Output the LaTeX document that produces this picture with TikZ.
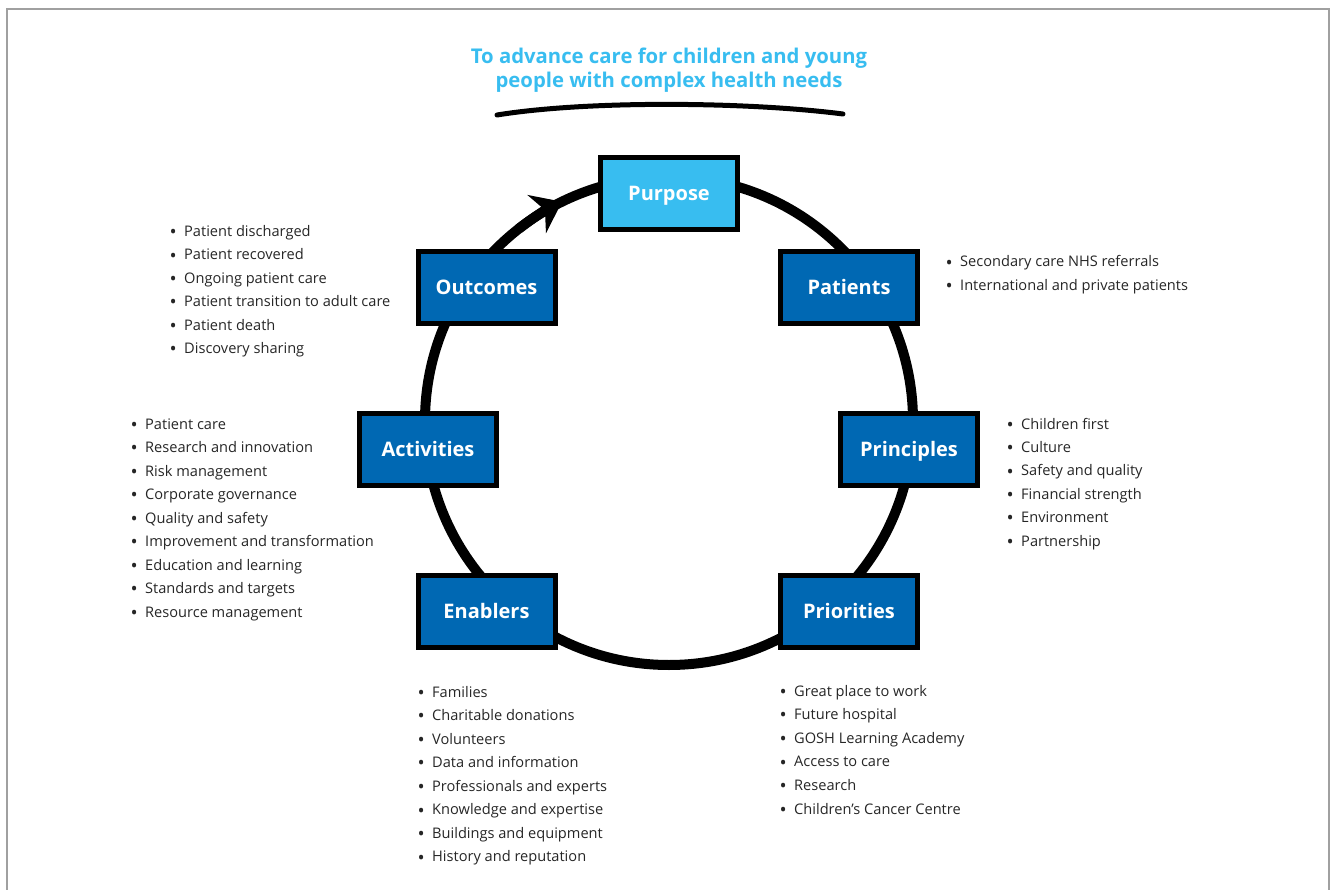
\documentclass[tikz,border=0pt]{standalone}
\usepackage{fontspec}
\setmainfont{Open Sans}
\usetikzlibrary{arrows.meta}
\definecolor{skyblue}{HTML}{38BDF0}
\definecolor{navyblue}{HTML}{0068B3}
\definecolor{txtgray}{HTML}{262626}
\definecolor{framegray}{HTML}{A0A0A0}
\tikzset{
  stagebox/.style={draw=black, line width=5pt, fill=navyblue, minimum width=137pt, minimum height=72pt, inner sep=0pt,
    text=white, font=\fontsize{20}{22}\selectfont\bfseries, text height=14pt, text depth=0pt},
  listitem/.style={anchor=base west, inner sep=0pt, text=txtgray, font=\fontsize{14.6}{16}\selectfont},
  ring/.style={line width=10pt, draw=black},
}
\newcommand{\bulletlist}[5]{%
  \foreach \t [count=\i] in {#5} {%
    \node[listitem] (#1\i) at (#2, {#3+(\i-1)*#4}) {\makebox[14.5pt][l]{\raisebox{-2.2pt}{\scalebox{1.3}{\textbullet}}}\t};
  }%
}
\begin{document}
\begin{tikzpicture}[x=1pt,y=-1pt]
\useasboundingbox (0,0) rectangle (1336,890);
% frame
\draw[framegray, line width=1.3pt] (7,890) -- (7,9) -- (1329,9) -- (1329,890);
% title
\node[text=skyblue, font=\fontsize{20.3}{24}\selectfont\bfseries, align=center] (title) at (669,70)
  {To advance care for children and young\\people with complex health needs};
\coordinate (ulA) at (497,115);
\coordinate (ulB) at (843,114);
\draw[line width=5pt, line cap=round] (ulA) .. controls (590,100) and (750,102) .. (ulB);
% ring
\coordinate (ctr) at (669,421);
\draw[ring] (ctr) circle[radius=244];
\draw[line width=10pt, -{Stealth[length=28pt,width=42pt,inset=9pt]}] (ctr) ++(232:244) arc (232:244:244);
% boxes
\node[stagebox, fill=skyblue] (purpose) at (669,193.5) {Purpose};
\node[stagebox] (outcomes) at (486.5,288) {Outcomes};
\node[stagebox] (patients) at (849,288) {Patients};
\node[stagebox] (activities) at (428,449.5) {Activities};
\node[stagebox] (principles) at (909,449.5) {Principles};
\node[stagebox] (enablers) at (486.5,611.5) {Enablers};
\node[stagebox] (priorities) at (849,611.5) {Priorities};
% lists
\bulletlist{oc}{169.5}{236.5}{23.4}{Patient discharged,Patient recovered,Ongoing patient care,Patient transition to adult care,Patient death,Discovery sharing}
\bulletlist{pa}{945.5}{267}{23.4}{Secondary care NHS referrals,International and private patients}
\bulletlist{ac}{130.5}{429}{23.5}{Patient care,Research and innovation,Risk management,Corporate governance,Quality and safety,Improvement and transformation,Education and learning,Standards and targets,Resource management}
\bulletlist{pr}{1006.5}{429}{23.4}{Children first,Culture,Safety and quality,Financial strength,Environment,Partnership}
\bulletlist{en}{417.5}{697}{23.57}{Families,Charitable donations,Volunteers,Data and information,Professionals and experts,Knowledge and expertise,Buildings and equipment,History and reputation}
\bulletlist{pi}{779.5}{696}{23.6}{Great place to work,Future hospital,GOSH Learning Academy,Access to care,Research,Children’s Cancer Centre}
\end{tikzpicture}
\end{document}
